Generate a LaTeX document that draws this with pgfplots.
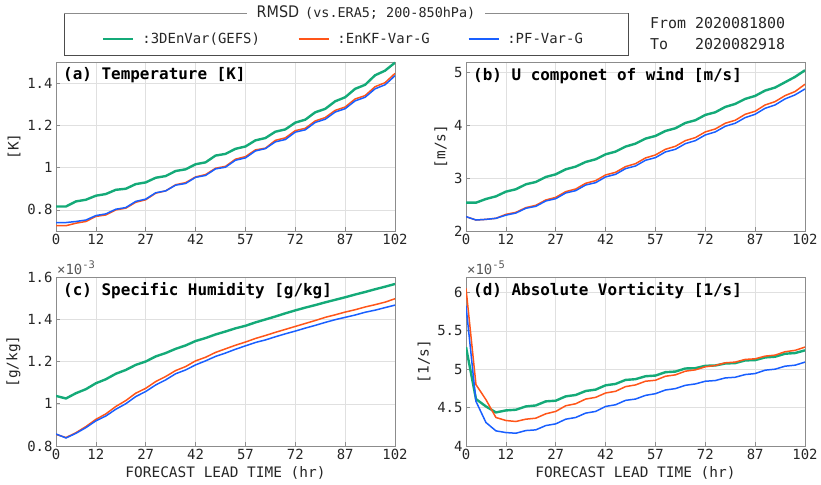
\documentclass[border=0pt]{standalone}
\usepackage{fontspec}
\setmainfont{DejaVu Sans Mono}
\newfontfamily\condfont{DejaVu Sans Condensed}
\usepackage{pgfplots}
\pgfplotsset{compat=1.18}
\usepackage{pgfplotstable}
\definecolor{cg}{RGB}{20,170,120}
\definecolor{co}{RGB}{255,85,25}
\definecolor{cb}{RGB}{25,95,255}
\definecolor{txt}{RGB}{38,38,38}

\pgfplotstableread{
x g o b
0 0.816 0.725 0.740
3 0.816 0.725 0.740
6 0.840 0.737 0.745
9 0.848 0.745 0.752
12 0.867 0.769 0.773
15 0.875 0.776 0.781
18 0.895 0.800 0.803
21 0.900 0.808 0.811
24 0.922 0.836 0.840
27 0.930 0.848 0.851
30 0.952 0.879 0.881
33 0.960 0.890 0.890
36 0.984 0.919 0.917
39 0.992 0.929 0.925
42 1.016 0.956 0.954
45 1.025 0.967 0.963
48 1.057 0.997 0.994
51 1.065 1.006 1.002
54 1.089 1.040 1.035
57 1.100 1.052 1.046
60 1.129 1.084 1.079
63 1.140 1.092 1.090
66 1.170 1.129 1.122
69 1.181 1.141 1.133
72 1.213 1.175 1.168
75 1.227 1.186 1.179
78 1.262 1.221 1.214
81 1.278 1.237 1.229
84 1.314 1.271 1.263
87 1.333 1.287 1.279
90 1.373 1.325 1.316
93 1.392 1.341 1.333
96 1.437 1.383 1.373
99 1.459 1.402 1.392
102 1.497 1.446 1.435
}\tabA

\pgfplotstableread{
x g o b
0 2.536 2.271 2.271
3 2.536 2.208 2.208
6 2.606 2.220 2.220
9 2.656 2.240 2.240
12 2.745 2.315 2.300
15 2.790 2.353 2.340
18 2.884 2.442 2.430
21 2.928 2.486 2.467
24 3.023 2.587 2.568
27 3.073 2.637 2.612
30 3.168 2.745 2.720
33 3.219 2.795 2.764
36 3.307 2.903 2.871
39 3.358 2.953 2.915
42 3.452 3.061 3.023
45 3.503 3.111 3.073
48 3.598 3.219 3.181
51 3.654 3.275 3.231
54 3.749 3.383 3.339
57 3.800 3.440 3.389
60 3.894 3.547 3.497
63 3.945 3.604 3.547
66 4.046 3.711 3.654
69 4.097 3.768 3.711
72 4.198 3.876 3.819
75 4.248 3.932 3.876
78 4.349 4.040 3.983
81 4.406 4.097 4.040
84 4.501 4.210 4.147
87 4.558 4.267 4.210
90 4.659 4.387 4.324
93 4.716 4.450 4.387
96 4.817 4.564 4.501
99 4.918 4.640 4.577
102 5.044 4.779 4.690
}\tabB

\pgfplotstableread{
x g o b
0 1.037 0.855 0.857
3 1.025 0.840 0.838
6 1.050 0.863 0.860
9 1.069 0.892 0.887
12 1.097 0.926 0.919
15 1.116 0.952 0.942
18 1.142 0.987 0.974
21 1.160 1.015 1.000
24 1.184 1.050 1.034
27 1.200 1.073 1.058
30 1.224 1.105 1.089
33 1.240 1.129 1.113
36 1.260 1.157 1.142
39 1.276 1.176 1.160
42 1.297 1.203 1.184
45 1.311 1.220 1.203
48 1.328 1.243 1.224
51 1.342 1.260 1.240
54 1.357 1.277 1.258
57 1.369 1.292 1.274
60 1.385 1.309 1.290
63 1.399 1.323 1.302
66 1.413 1.338 1.317
69 1.428 1.352 1.331
72 1.442 1.366 1.344
75 1.455 1.380 1.358
78 1.467 1.394 1.371
81 1.480 1.409 1.385
84 1.492 1.421 1.398
87 1.504 1.434 1.409
90 1.517 1.445 1.420
93 1.529 1.458 1.433
96 1.542 1.469 1.443
99 1.554 1.481 1.455
102 1.567 1.497 1.467
}\tabC

\pgfplotstableread{
x g o b
0 5.288 6.052 5.825
3 4.611 4.799 4.581
6 4.515 4.603 4.306
9 4.437 4.371 4.197
12 4.463 4.332 4.175
15 4.472 4.319 4.166
18 4.515 4.349 4.201
21 4.528 4.362 4.210
24 4.581 4.419 4.266
27 4.590 4.450 4.288
30 4.646 4.524 4.349
33 4.664 4.550 4.371
36 4.716 4.611 4.428
39 4.734 4.633 4.450
42 4.790 4.690 4.515
45 4.808 4.712 4.537
48 4.860 4.773 4.594
51 4.870 4.795 4.611
54 4.908 4.843 4.659
57 4.917 4.856 4.681
60 4.961 4.908 4.729
63 4.969 4.926 4.747
66 5.009 4.974 4.790
69 5.013 4.991 4.808
72 5.044 5.031 4.843
75 5.048 5.048 4.852
78 5.074 5.083 4.886
81 5.079 5.092 4.895
84 5.114 5.127 4.930
87 5.118 5.135 4.943
90 5.153 5.170 4.987
93 5.162 5.183 5.000
96 5.201 5.227 5.039
99 5.210 5.245 5.052
102 5.245 5.288 5.092
}\tabD

\pgfplotsset{
  panel/.style={
    scale only axis, width=339bp, height=169bp,
    xmin=0, xmax=102, xtick={0,12,27,42,57,72,87,102},
    grid=major, major grid style={black!12, line width=0.5bp},
    axis line style={black!45, line width=0.6bp},
    tick style={black!45, line width=0.6bp},
    tick align=inside, major tick length=4bp,
    xtick pos=bottom, ytick pos=left,
    /pgf/number format/assume math mode=true,
    tick label style={font=\fontsize{14}{14}\selectfont, text=txt},
    label style={font=\fontsize{14.5}{15}\selectfont, text=txt},
    clip mode=individual,
  },
  gl/.style={color=cg, line width=2.4bp},
  ol/.style={color=co, line width=1.5bp},
  bl/.style={color=cb, line width=1.5bp},
}
\newcommand{\ptitle}[1]{\node[anchor=north west, inner sep=0pt, font=\fontsize{16}{16}\selectfont\bfseries] at ([xshift=7bp,yshift=-5bp]rel axis cs:0,1) {#1};}
\newcommand{\pexp}[1]{\node[anchor=south west, inner sep=0pt, font=\fontsize{14}{14}\selectfont, text=black!65] at ([xshift=1bp,yshift=2bp]rel axis cs:0,1) {×10{\fontsize{10.5}{10.5}\selectfont\raisebox{0.55em}{#1}}};}

\begin{document}
\begin{tikzpicture}
\useasboundingbox (0,0) rectangle (821bp,485bp);

% legend frame
\draw[black!70, line width=0.6bp] (64bp,472bp) -- (64bp,430bp) -- (628bp,430bp) -- (628bp,472bp);
\draw[black!45, line width=0.8bp] (64bp,472bp) -- (628bp,472bp);
\node[fill=white, inner xsep=10bp, inner ysep=1bp, text=txt] at (366bp,472bp)
  {{\condfont\fontsize{16}{16}\selectfont RMSD} {\fontsize{13.5}{13.5}\selectfont(vs.ERA5; 200-850hPa)}};
\node[anchor=west, inner sep=0pt, text=txt, font=\fontsize{15}{21}\selectfont] at (650bp,450bp)
  {\begin{tabular}{@{}l@{ }l@{}}From & 2020081800\\ To & 2020082918\end{tabular}};

% (a)
\begin{axis}[panel, at={(56bp,254bp)}, anchor=south west,
  ymin=0.7, ymax=1.5, ytick={0.8,1,1.2,1.4}, ylabel={[K]},
  legend columns=3,
  legend style={draw=none, fill=none, at={(0.848,1.136)}, anchor=center,
    font=\fontsize{14}{14}\selectfont, text=txt,
    /tikz/every even column/.append style={column sep=36bp}},
  legend image code/.code={\draw[#1] (0bp,0bp) -- (30bp,0bp); \path (36bp,0bp);},
  ]
\addplot[gl] table[x=x,y=g] {\tabA};
\addplot[ol] table[x=x,y=o] {\tabA};
\addplot[bl] table[x=x,y=b] {\tabA};
\legend{:3DEnVar(GEFS), :EnKF-Var-G, :PF-Var-G}
\ptitle{(a) Temperature [K]}
\end{axis}

% (b)
\begin{axis}[panel, at={(466bp,254bp)}, anchor=south west,
  ymin=2, ymax=5.2, ytick={2,3,4,5}, ylabel={[m/s]}]
\addplot[gl] table[x=x,y=g] {\tabB};
\addplot[ol] table[x=x,y=o] {\tabB};
\addplot[bl] table[x=x,y=b] {\tabB};
\ptitle{(b) U componet of wind [m/s]}
\end{axis}

% (c)
\begin{axis}[panel, at={(56bp,39bp)}, anchor=south west,
  ymin=0.8, ymax=1.6, ytick={0.8,1,1.2,1.4,1.6}, ylabel={[g/kg]},
  xlabel={FORECAST LEAD TIME (hr)}]
\addplot[gl] table[x=x,y=g] {\tabC};
\addplot[ol] table[x=x,y=o] {\tabC};
\addplot[bl] table[x=x,y=b] {\tabC};
\ptitle{(c) Specific Humidity [g/kg]}
\pexp{-3}
\end{axis}

% (d)
\begin{axis}[panel, at={(466bp,39bp)}, anchor=south west,
  ymin=4, ymax=6.2, ytick={4,4.5,5,5.5,6}, ylabel={[1/s]},
  xlabel={FORECAST LEAD TIME (hr)}]
\addplot[gl] table[x=x,y=g] {\tabD};
\addplot[ol] table[x=x,y=o] {\tabD};
\addplot[bl] table[x=x,y=b] {\tabD};
\ptitle{(d) Absolute Vorticity [1/s]}
\pexp{-5}
\end{axis}
\end{tikzpicture}
\end{document}
